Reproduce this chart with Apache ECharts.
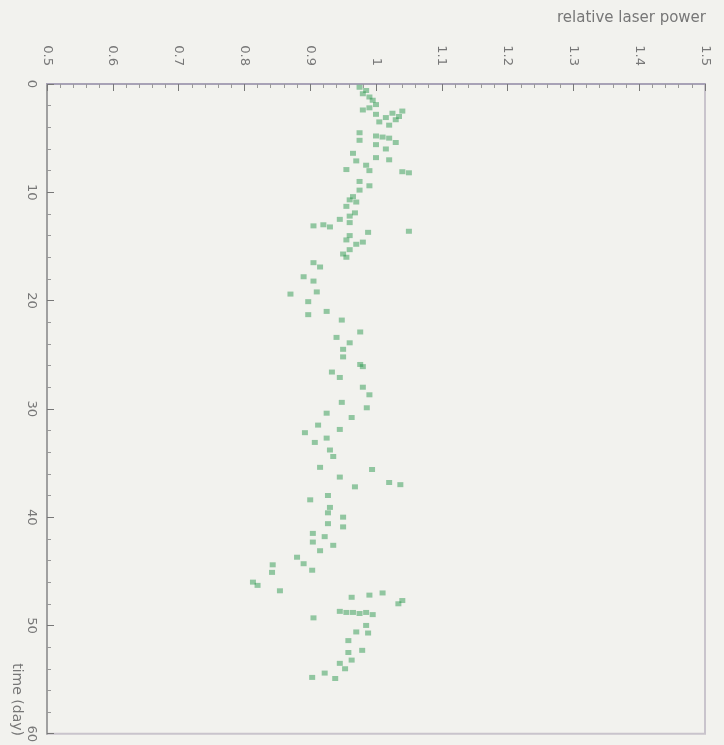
<!DOCTYPE html>
<html><head><meta charset="utf-8">
<script src="https://cdn.jsdelivr.net/npm/echarts@6/dist/echarts.min.js"></script>
<style>html,body{margin:0;padding:0;background:#f2f2ee;}#c{width:724px;height:745px;}</style>
</head><body><div id="c"></div>
<script>
const days = [0.3,0.6,0.9,1.2,1.5,1.9,2.2,2.5,2.7,2.8,3.0,3.1,3.3,3.5,2.4,3.8,
4.5,4.8,4.9,5.0,5.2,5.4,5.6,6.0,6.4,6.8,7.0,7.1,7.5,7.9,8.0,8.1,8.2,
9.0,9.4,9.8,10.4,10.7,10.9,11.3,11.9,12.2,12.5,12.8,13.1,13.0,13.2,13.6,13.7,14.0,14.4,14.6,14.8,15.3,15.7,16.0,16.5,16.9,17.8,
18.2,19.2,19.4,20.1,21.3,21.0,21.8,22.9,23.4,23.9,24.5,25.2,25.9,26.1,26.6,27.1,28.0,28.7,
29.4,29.9,30.4,30.8,31.5,31.9,32.2,32.7,33.1,33.8,34.4,35.4,35.6,36.3,36.8,37.0,37.2,38.0,38.4,39.1,
39.6,40.0,40.6,40.9,41.5,41.8,42.3,42.6,43.1,43.7,44.3,44.9,44.4,45.1,46.0,46.3,46.8,
47.0,47.2,47.4,47.7,48.0,48.7,48.8,48.8,48.9,48.8,49.0,49.3,50.0,50.6,50.7,51.4,52.3,52.5,53.2,53.5,54.0,54.4,54.9,54.8];
const power = [0.975,0.985,0.98,0.99,0.995,1.0,0.99,1.04,1.025,1.0,1.035,1.015,1.03,1.005,0.98,1.02,
0.975,1.0,1.01,1.02,0.975,1.03,1.0,1.015,0.965,1.0,1.02,0.97,0.985,0.955,0.99,1.04,1.05,
0.975,0.99,0.975,0.965,0.96,0.97,0.955,0.968,0.96,0.945,0.96,0.905,0.92,0.93,1.05,0.988,0.96,0.955,0.98,0.97,0.96,0.95,0.955,0.905,0.915,0.89,
0.905,0.91,0.87,0.897,0.897,0.925,0.948,0.976,0.94,0.96,0.95,0.95,0.976,0.98,0.933,0.945,0.98,0.99,
0.948,0.986,0.925,0.963,0.912,0.945,0.892,0.925,0.907,0.93,0.935,0.915,0.994,0.945,1.02,1.037,0.968,0.927,0.9,0.93,
0.927,0.95,0.927,0.95,0.904,0.922,0.904,0.935,0.915,0.88,0.89,0.903,0.843,0.842,0.813,0.82,0.854,
1.01,0.99,0.963,1.04,1.034,0.945,0.955,0.965,0.975,0.985,0.995,0.905,0.985,0.97,0.988,0.958,0.979,0.958,0.963,0.945,0.953,0.922,0.938,0.903];
const powerTicks = {min:0.5, max:1.5, step:0.1};
const dayTicks = {min:0, max:60, step:10};

const pts = days.map((d,i)=>[power[i], d]);
const chart = echarts.init(document.getElementById('c'));
const font = 'DejaVu Sans';
chart.setOption({
  backgroundColor:'#f2f2ee',
  animation:false,
  grid:{left:47,right:19,top:84,bottom:11,show:true,borderColor:'#c9c4cc',borderWidth:2,backgroundColor:'#f2f2ee'},
  xAxis:{type:'value',position:'top',min:powerTicks.min,max:powerTicks.max,interval:powerTicks.step,
    axisLine:{show:true,lineStyle:{color:'#a8a2b6',width:2}},
    axisTick:{show:true,inside:true,length:7,lineStyle:{color:'#777'}},
    minorTick:{show:true,splitNumber:5,length:4,lineStyle:{color:'#999'}},
    splitLine:{show:false},
    axisLabel:{rotate:-90,color:'#777',fontSize:13,fontFamily:font,margin:18}},
  yAxis:{type:'value',inverse:true,min:dayTicks.min,max:dayTicks.max,interval:dayTicks.step,
    axisLine:{show:true,lineStyle:{color:'#a0a0a0',width:2}},
    axisTick:{show:true,inside:true,length:7,lineStyle:{color:'#777'}},
    minorTick:{show:true,splitNumber:5,length:4,lineStyle:{color:'#999'}},
    splitLine:{show:false},
    axisLabel:{rotate:-90,color:'#777',fontSize:13,fontFamily:font,margin:9}},
  graphic:[
    {type:'text',x:706,y:18,style:{text:'relative laser power',fill:'#777',font:'15px '+font,textAlign:'right',textVerticalAlign:'middle'}},
    {type:'text',x:17,y:736,rotation:-Math.PI/2,style:{text:'time (day)',fill:'#777',font:'14px '+font,textAlign:'right',textVerticalAlign:'middle'}}
  ],
  series:[{type:'scatter',data:pts,symbol:'rect',symbolSize:[6,5],
    itemStyle:{color:'rgba(40,150,75,0.6)'}}]
});
</script></body></html>
